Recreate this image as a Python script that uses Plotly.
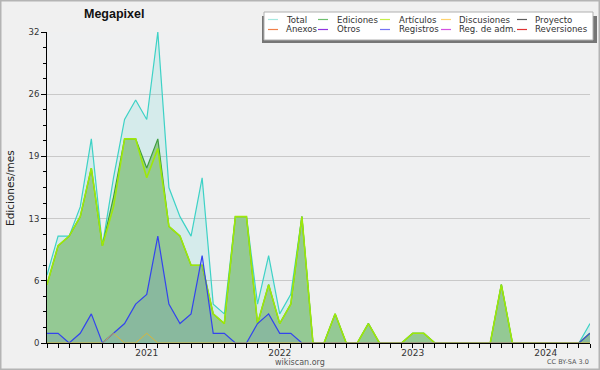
import plotly.graph_objects as go

# ---------------- data ----------------
months = [f"{y}-{m:02d}" for y in range(2020, 2025) for m in range(1, 13)]
months = months[months.index("2020-04"):months.index("2024-05") + 1]

total = [7, 11, 11, 14, 21, 10, 17, 23, 25, 23, 32, 16, 13, 11, 17, 4, 3, 13, 13, 4, 9, 3, 5, 13,
         0, 0, 3, 0, 0, 2, 0, 0, 0, 1, 1, 0, 0, 0, 0, 0, 0, 6, 0, 0, 0, 0, 0, 0, 0, 2]
ediciones = [6, 10, 11, 13, 18, 10, 15, 21, 21, 18, 21, 12, 11, 8, 8, 3, 2, 13, 13, 2, 6, 2, 4, 13,
             0, 0, 3, 0, 0, 2, 0, 0, 0, 1, 1, 0, 0, 0, 0, 0, 0, 6, 0, 0, 0, 0, 0, 0, 0, 1]
articulos = [6, 10, 11, 13, 18, 10, 14, 21, 21, 17, 20, 12, 11, 8, 8, 3, 2, 13, 13, 2, 6, 2, 4, 13,
             0, 0, 3, 0, 0, 2, 0, 0, 0, 1, 1, 0, 0, 0, 0, 0, 0, 6, 0, 0, 0, 0, 0, 0, 0, 1]
discusiones = [0, 0, 0, 0, 0, 0, 1, 0, 0, 1, 0, 0, 0, 0, 0, 0, 0, 0, 0, 0, 0, 0, 0, 0,
               0, 0, 0, 0, 0, 0, 0, 0, 0, 0, 0, 0, 0, 0, 0, 0, 0, 0, 0, 0, 0, 0, 0, 0, 0, 0]
registros = [1, 1, 0, 1, 3, 0, 1, 2, 4, 5, 11, 4, 2, 3, 9, 1, 1, 0, 0, 2, 3, 1, 1, 0,
             0, 0, 0, 0, 0, 0, 0, 0, 0, 0, 0, 0, 0, 0, 0, 0, 0, 0, 0, 0, 0, 0, 0, 0, 0, 1]

y_tickvals = [0, 6.4, 12.8, 19.2, 25.6, 32]
y_ticktext = ["0", "6", "13", "19", "26", "32"]

legend_names = [["Total", "Ediciones", "Artículos", "Discusiones", "Proyecto"],
                ["Anexos", "Otros", "Registros", "Reg. de adm.", "Reversiones"]]
legend_colors = [["#a6e8e0", "#6fc06f", "#c6ef4a", "#ffd36e", "#5e5e5e"],
                 ["#f0804a", "#9035e0", "#7474f4", "#d452e2", "#e03333"]]

# ---------------- layout helpers ----------------
W, H = 600, 370
L, R, T, B = 47, 590, 32, 343
PW, PH = R - L, B - T

def px(x):
    return (x - L) / PW

def py(y):
    return (B - y) / PH

FONT = "DejaVu Sans"

fig = go.Figure()
fig.add_trace(go.Scatter(x=months, y=total, mode="lines", fill="tozeroy",
                         fillcolor="rgba(64,208,200,0.15)",
                         line=dict(color="#3dd2c6", width=1.2), name="Total"))
fig.add_trace(go.Scatter(x=months, y=ediciones, mode="lines", fill="tozeroy",
                         fillcolor="#94c994",
                         line=dict(color="#3f9e3f", width=1.2), name="Ediciones"))
fig.add_trace(go.Scatter(x=months, y=articulos, mode="lines",
                         line=dict(color="#9ee80a", width=1.6), name="Artículos"))
fig.add_trace(go.Scatter(x=months, y=registros, mode="lines", fill="tozeroy",
                         fillcolor="rgba(60,70,230,0.12)",
                         line=dict(color="#3344ee", width=1.2), name="Registros"))
fig.add_trace(go.Scatter(x=months, y=discusiones, mode="lines",
                         line=dict(color="#d9b53a", width=1), name="Discusiones"))

xtext = [m[:4] if m.endswith("-01") else "" for m in months]

fig.update_layout(
    width=W, height=H, autosize=False,
    margin=dict(l=L, r=W - R, t=T, b=H - B, pad=0),
    paper_bgcolor="#f0f0f0", plot_bgcolor="#eff0f1",
    showlegend=False,
    font=dict(family=FONT, size=9, color="#333"),
    xaxis=dict(type="category", range=[0, len(months) - 1],
               tickvals=months, ticktext=xtext,
               ticks="outside", ticklen=4, tickcolor="black", tickwidth=1,
               ticklabelstandoff=-3,
               showline=True, linecolor="black", linewidth=1,
               showgrid=False, zeroline=False,
               tickfont=dict(family=FONT, size=9, color="#333")),
    yaxis=dict(range=[0, 32], tickvals=y_tickvals, ticktext=y_ticktext,
               ticks="outside", ticklen=5, tickcolor="black", tickwidth=1,
               showline=True, linecolor="black", linewidth=1,
               showgrid=True, gridcolor="#c9c9c9", gridwidth=1, zeroline=False,
               minor=dict(tick0=0, dtick=1.6, ticks="outside", ticklen=3,
                          tickcolor="black", showgrid=False),
               tickfont=dict(family=FONT, size=8.5, color="#333")),
)

shapes = []
annotations = []

# outer border
shapes.append(dict(type="rect", xref="paper", yref="paper",
                   x0=px(0.5), x1=px(599.5), y0=py(0.5), y1=py(369.5),
                   line=dict(color="#b4b4b4", width=2), fillcolor="rgba(0,0,0,0)",
                   layer="above"))

# legend box with shadow
shapes.append(dict(type="rect", xref="paper", yref="paper",
                   x0=px(262), x1=px(597), y0=py(43), y1=py(16),
                   line=dict(width=0), fillcolor="#767676", layer="above"))
shapes.append(dict(type="rect", xref="paper", yref="paper",
                   x0=px(264), x1=px(593), y0=py(40), y1=py(12),
                   line=dict(color="#b0b0b0", width=1), fillcolor="#ffffff", layer="above"))

line_x = [268, 318, 380, 441, 517]
text_x = [284, 335, 397, 457, 533]
row_y = [19.5, 29.5]
for r in range(2):
    for c in range(5):
        shapes.append(dict(type="line", xref="paper", yref="paper",
                           x0=px(line_x[c]), x1=px(line_x[c] + 10),
                           y0=py(row_y[r]), y1=py(row_y[r]),
                           line=dict(color=legend_colors[r][c], width=1.2), layer="above"))
        annotations.append(dict(text=legend_names[r][c], xref="paper", yref="paper",
                                x=px(text_x[c]), y=py(row_y[r]), xanchor="left",
                                yanchor="middle", showarrow=False,
                                font=dict(family=FONT, size=8.6, color="#333")))

# title
annotations.append(dict(text="<b>Megapixel</b>", xref="paper", yref="paper",
                        x=px(114), y=py(14), xanchor="center", yanchor="middle",
                        showarrow=False,
                        font=dict(family="Liberation Sans", size=12.5, color="#111")))
# y-axis title
annotations.append(dict(text="Ediciones/mes", xref="paper", yref="paper",
                        x=px(10), y=py(188), xanchor="center", yanchor="middle",
                        textangle=-90, showarrow=False,
                        font=dict(family=FONT, size=10.5, color="#222")))
# credits
annotations.append(dict(text="wikiscan.org", xref="paper", yref="paper",
                        x=px(300), y=py(362), xanchor="center", yanchor="middle",
                        showarrow=False, font=dict(family=FONT, size=8, color="#555")))
annotations.append(dict(text="CC BY-SA 3.0", xref="paper", yref="paper",
                        x=px(568), y=py(362), xanchor="center", yanchor="middle",
                        showarrow=False, font=dict(family=FONT, size=6.5, color="#555")))

fig.update_layout(shapes=shapes, annotations=annotations)
fig.write_html("out.html", config={"displayModeBar": False},
               post_script="document.body.style.margin='0';document.body.style.padding='0';")
